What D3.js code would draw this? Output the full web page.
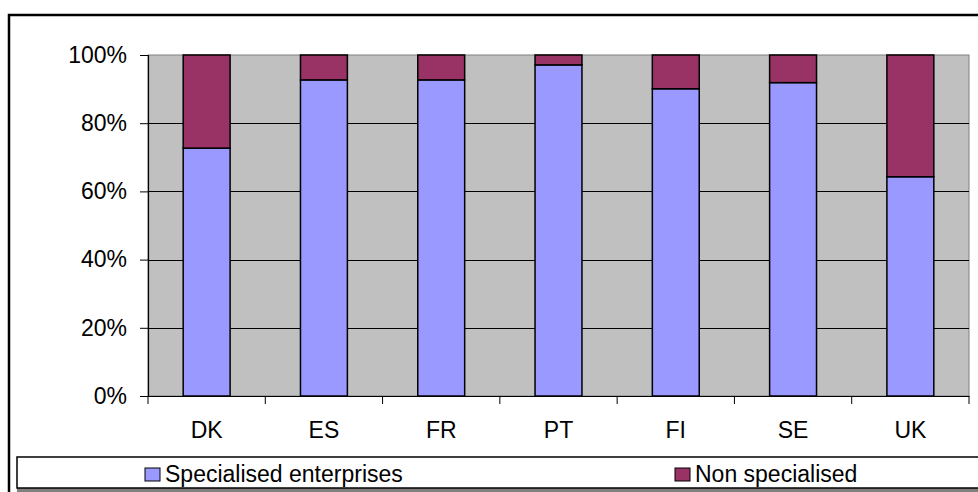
<!DOCTYPE html>
<html>
<head>
<meta charset="utf-8">
<script src="https://cdn.jsdelivr.net/npm/d3@7"></script>
<style>
  html, body { margin: 0; padding: 0; background: #fff; }
  svg { display: block; }
  text { font-family: "Liberation Sans", Arial, sans-serif; fill: #000; }
</style>
</head>
<body>
<svg id="chart" width="978" height="492"></svg>
<script>
const categories = ["DK", "ES", "FR", "PT", "FI", "SE", "UK"];
const specialised = [72.7, 92.7, 92.7, 97.1, 90.1, 91.9, 64.3];
const nonSpecialised = [27.3, 7.3, 7.3, 2.9, 9.9, 8.1, 35.7];
const yTicks = [0, 20, 40, 60, 80, 100];
const seriesNames = ["Specialised enterprises", "Non specialised"];
const seriesColors = ["#9999FF", "#993366"];

const svg = d3.select("#chart");
const plot = { left: 148, right: 969, top: 55, bottom: 396 };

// outer frame
svg.append("rect").attr("x", 9).attr("y", 15).attr("width", 1100).attr("height", 1000)
  .attr("fill", "#fff").attr("stroke", "#000").attr("stroke-width", 2.5);

const x = d3.scaleBand().domain(categories).range([plot.left, plot.right])
  .paddingInner(0.6).paddingOuter(0.3);
const y = d3.scaleLinear().domain([0, 100]).range([plot.bottom, plot.top]);

// plot background
svg.append("rect").attr("x", plot.left).attr("y", plot.top)
  .attr("width", plot.right - plot.left).attr("height", plot.bottom - plot.top)
  .attr("fill", "#C0C0C0").attr("stroke", "#808080").attr("stroke-width", 1);

// gridlines
svg.append("g").selectAll("line").data(yTicks.filter(d => d > 0 && d < 100)).join("line")
  .attr("x1", plot.left).attr("x2", plot.right)
  .attr("y1", d => Math.round(y(d)) + 0.5).attr("y2", d => Math.round(y(d)) + 0.5)
  .attr("stroke", "#000").attr("stroke-width", 1);

// stacked bars
const rows = categories.map((c, i) => ({ cat: c, s: specialised[i], n: nonSpecialised[i] }));
const stack = d3.stack().keys(["s", "n"])(rows);
svg.append("g").selectAll("g").data(stack).join("g")
  .attr("fill", (d, i) => seriesColors[i])
  .selectAll("rect").data(d => d).join("rect")
  .attr("x", d => x(d.data.cat))
  .attr("width", x.bandwidth())
  .attr("y", d => y(d[1]))
  .attr("height", d => y(d[0]) - y(d[1]))
  .attr("stroke", "#000").attr("stroke-width", 1.5);

// y axis
const yAxis = d3.axisLeft(y).tickValues(yTicks).tickFormat(d => d + "%").tickSize(8).tickPadding(13);
const gy = svg.append("g").attr("transform", `translate(${plot.left},0)`).call(yAxis);
gy.select(".domain").attr("stroke", "#000").attr("stroke-width", 1.2);
gy.selectAll(".tick line").attr("stroke", "#000");
gy.selectAll("text").attr("font-size", 23).attr("font-family", "Liberation Sans, Arial, sans-serif");

// x axis
const gx = svg.append("g").attr("transform", `translate(0,${plot.bottom})`)
  .call(d3.axisBottom(x).tickSize(0).tickPadding(26));
gx.select(".domain").attr("stroke", "#000").attr("stroke-width", 1.2);
gx.selectAll("text").attr("font-size", 23).attr("font-family", "Liberation Sans, Arial, sans-serif");
// category boundary ticks
const bounds = categories.map((c, i) => plot.left + i * x.step());
bounds.push(plot.right);
svg.append("g").selectAll("line").data(bounds).join("line")
  .attr("x1", d => d).attr("x2", d => d)
  .attr("y1", plot.bottom).attr("y2", plot.bottom + 8)
  .attr("stroke", "#000").attr("stroke-width", 1);

// legend
const lg = svg.append("g");
lg.append("rect").attr("x", 17).attr("y", 488).attr("width", 1100).attr("height", 10).attr("fill", "#808080");
lg.append("rect").attr("x", 17).attr("y", 457).attr("width", 1100).attr("height", 31)
  .attr("fill", "#fff").attr("stroke", "#000").attr("stroke-width", 1.5);
const legendX = [145, 675];
seriesNames.forEach((name, i) => {
  lg.append("rect").attr("x", legendX[i]).attr("y", 468).attr("width", 15).attr("height", 13)
    .attr("fill", seriesColors[i]).attr("stroke", "#000").attr("stroke-width", 1);
  lg.append("text").attr("x", legendX[i] + 20).attr("y", 481.5)
    .attr("font-size", 23).text(name);
});
</script>
</body>
</html>
